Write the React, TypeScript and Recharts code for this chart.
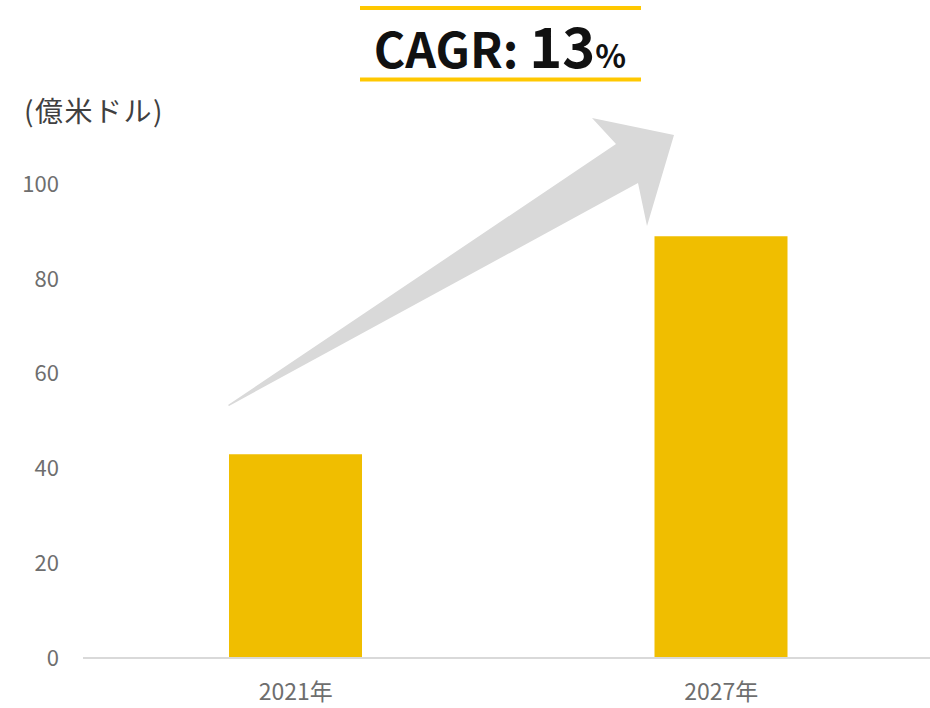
import React from 'react';
import { BarChart, Bar, XAxis, YAxis, Customized } from 'recharts';

const categories = ['2021年', '2027年'];
const marketValues = [43, 89];
const yTicks = [0, 20, 40, 60, 80, 100];
const unitLabel = '(億米ドル)';
const cagrLabel = 'CAGR: ';
const cagrValue = '13';
const cagrUnit = '%';

const data = categories.map((c, i) => ({ year: c, value: marketValues[i] }));

const FONT = '"Noto Sans CJK JP", "Noto Sans", sans-serif';

const Decor = () => (
  <g>
    <line x1={360} x2={641} y1={8} y2={8} stroke="#FFC800" strokeWidth={4} />
    <line x1={360} x2={641} y1={79.5} y2={79.5} stroke="#FFC800" strokeWidth={4} />
    <text x={500} y={68} textAnchor="middle" fontFamily={FONT} fontWeight={700} fill="#111111">
      <tspan fontSize={48}>{cagrLabel}</tspan>
      <tspan fontSize={56}>{cagrValue}</tspan>
      <tspan fontSize={32}>{cagrUnit}</tspan>
    </text>
    <text x={24} y={122} fontFamily={FONT} fontSize={28} letterSpacing={1.5} fill="#404040">{unitLabel}</text>
    <polygon
      points="228,405 616,144 592,118 674,135 647,226 638,183 229,406"
      fill="#D9D9D9"
    />
  </g>
);

export default function App() {
  return (
    <div style={{ position: 'absolute', left: 0, top: 0, width: 930, height: 708, background: '#fff' }}>
      <BarChart
        width={930}
        height={708}
        data={data}
        margin={{ top: 184, right: -4, bottom: 0, left: 0 }}
      >
        <XAxis
          dataKey="year"
          height={50}
          tickLine={false}
          tickSize={0}
          tickMargin={26}
          axisLine={{ stroke: '#D9D9D9', strokeWidth: 2 }}
          tick={{ fill: '#6E6E6E', fontSize: 23, fontFamily: FONT }}
        />
        <YAxis
          width={83}
          domain={[0, 100]}
          ticks={yTicks}
          axisLine={false}
          tickLine={false}
          tickSize={0}
          tickMargin={24}
          tick={{ fill: '#6E6E6E', fontSize: 22, fontFamily: FONT }}
        />
        <Bar dataKey="value" fill="#F0BE00" barSize={133} isAnimationActive={false} />
        <Customized component={Decor} />
      </BarChart>
    </div>
  );
}
